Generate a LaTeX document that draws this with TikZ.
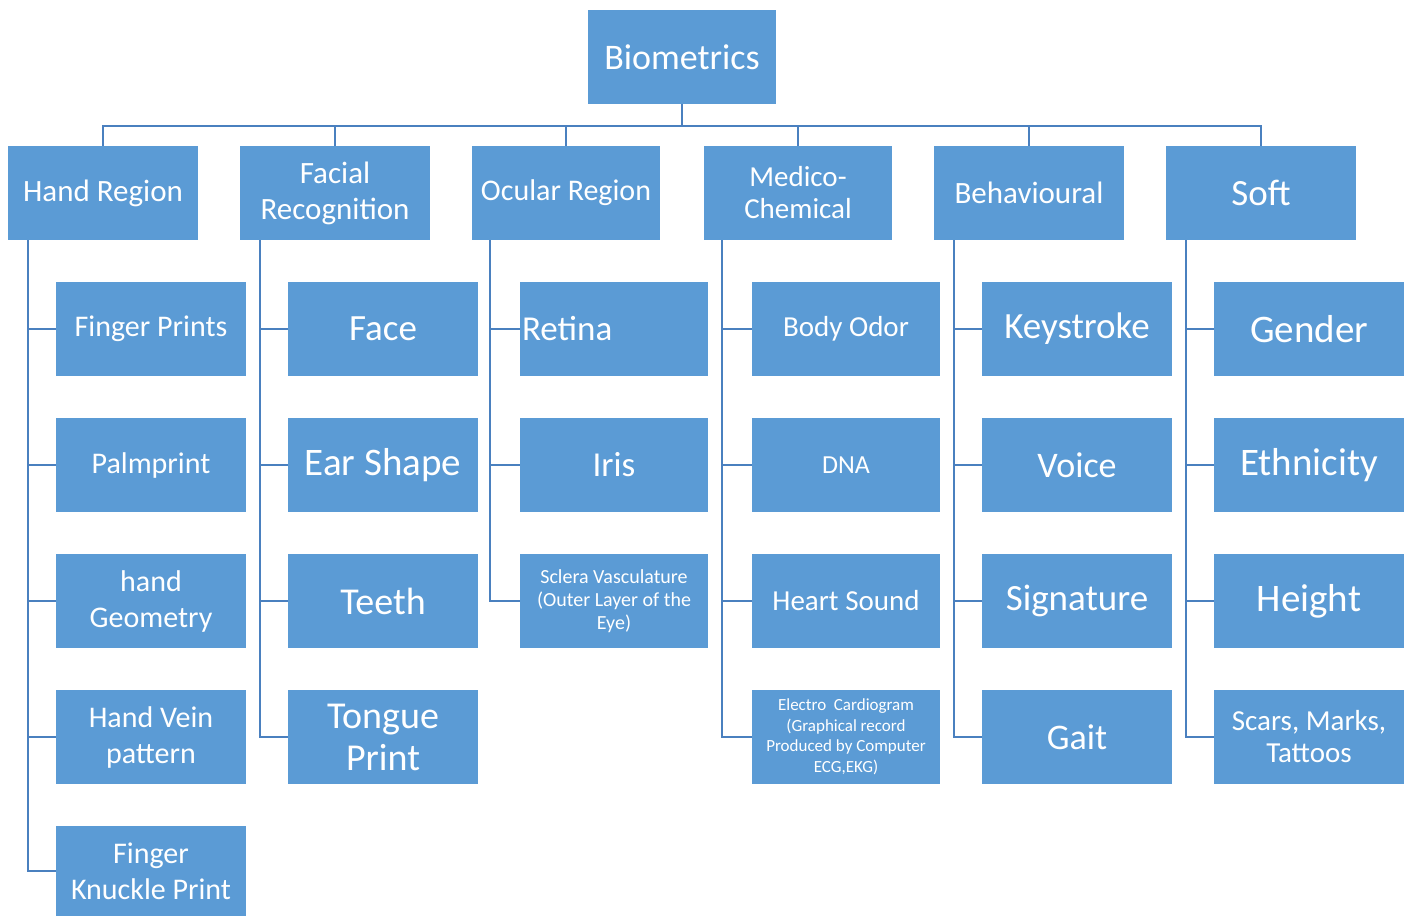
\documentclass[tikz,border=0pt]{standalone}
\usepackage{fontspec}
\setmainfont{Carlito}
\definecolor{boxblue}{HTML}{5B9BD5}
\definecolor{linkblue}{HTML}{4A80BF}
\begin{document}
\begin{tikzpicture}[x=1pt,y=-1pt,
  box/.style={fill=boxblue, draw=none, text=white, inner sep=0pt, outer sep=0pt,
    align=center, anchor=north west, minimum width=190pt, minimum height=94pt},
  narrow/.style={minimum width=188pt},
  fs/.style 2 args={font=\fontsize{#1}{#2}\selectfont},
  link/.style={draw=linkblue, line width=2.1pt}]
\useasboundingbox (0,0) rectangle (1410,916);

% root
\node[box, narrow, fs={36}{42}] (bio) at (588,10) {Biometrics};

% categories
\node[box, fs={31}{36}] (hand) at (8,146) {Hand Region};
\node[box, fs={31}{36}] (face) at (240,146) {Facial\\Recognition};
\node[box, narrow, fs={30}{35}] (ocul) at (472,146) {Ocular Region};
\node[box, narrow, fs={29}{32}] (med) at (704,146) {Medico-\\Chemical};
\node[box, fs={31}{36}] (beh) at (934,146) {Behavioural};
\node[box, fs={37}{42}] (soft) at (1166,146) {Soft};

% hand region
\node[box, fs={30}{36}] (fp) at (56,282) {Finger Prints};
\node[box, fs={30}{36}] (pp) at (56,418) {Palmprint};
\node[box, fs={30}{36}] (hg) at (56,554) {hand\\Geometry};
\node[box, fs={30}{36}] (hv) at (56,690) {Hand Vein\\pattern};
\node[box, fs={30}{36}, minimum height=90pt] (fk) at (56,826) {Finger\\Knuckle Print};

% facial recognition
\node[box, fs={37}{42}] (fc) at (288,282) {Face};
\node[box, fs={39}{42}] (es) at (288,418) {Ear Shape};
\node[box, fs={38}{42}] (th) at (288,554) {Teeth};
\node[box, fs={38}{42}] (tp) at (288,690) {Tongue\\Print};

% ocular region
\node[box, narrow, fs={35}{40}] (ret) at (520,282) {\makebox[188pt][l]{\hspace{2pt}Retina}};
\node[box, narrow, fs={35}{40}] (iri) at (520,418) {Iris};
\node[box, narrow, fs={20}{23}] (scl) at (520,554) {Sclera Vasculature\\(Outer Layer of the\\Eye)};

% medico-chemical
\node[box, narrow, fs={29}{34}] (bo) at (752,282) {Body Odor};
\node[box, narrow, fs={26}{30}] (dna) at (752,418) {DNA};
\node[box, narrow, fs={29}{34}] (hs) at (752,554) {Heart Sound};
\node[box, narrow, fs={17}{20.5}] (ecg) at (752,690) {Electro~~Cardiogram\\(Graphical record\\Produced by Computer\\ECG,EKG)};

% behavioural
\node[box, fs={37}{42}] (ks) at (982,282) {Keystroke};
\node[box, fs={36}{42}] (vo) at (982,418) {Voice};
\node[box, fs={37}{42}] (sg) at (982,554) {Signature};
\node[box, fs={36}{42}] (ga) at (982,690) {Gait};

% soft
\node[box, fs={39}{44}] (ge) at (1214,282) {Gender};
\node[box, fs={39}{44}] (et) at (1214,418) {Ethnicity};
\node[box, fs={39}{44}] (he) at (1214,554) {Height};
\node[box, fs={29}{32}] (sm) at (1214,690) {Scars, Marks,\\Tattoos};

% root to categories
\coordinate (bus) at (682,126);
\foreach \c in {hand,face,ocul,med,beh,soft}
  \draw[link] (bio.south) -- (bio.south |- bus) -| (\c.north);

% categories to members
\foreach \p/\dx/\kids in {hand/20/{fp,pp,hg,hv,fk}, face/20/{fc,es,th,tp}, ocul/18/{ret,iri,scl},
                          med/18/{bo,dna,hs,ecg}, beh/20/{ks,vo,sg,ga}, soft/20/{ge,et,he,sm}}
  \foreach \k in \kids
    \draw[link] ([xshift=\dx pt]\p.south west) |- (\k.west);
\end{tikzpicture}
\end{document}
